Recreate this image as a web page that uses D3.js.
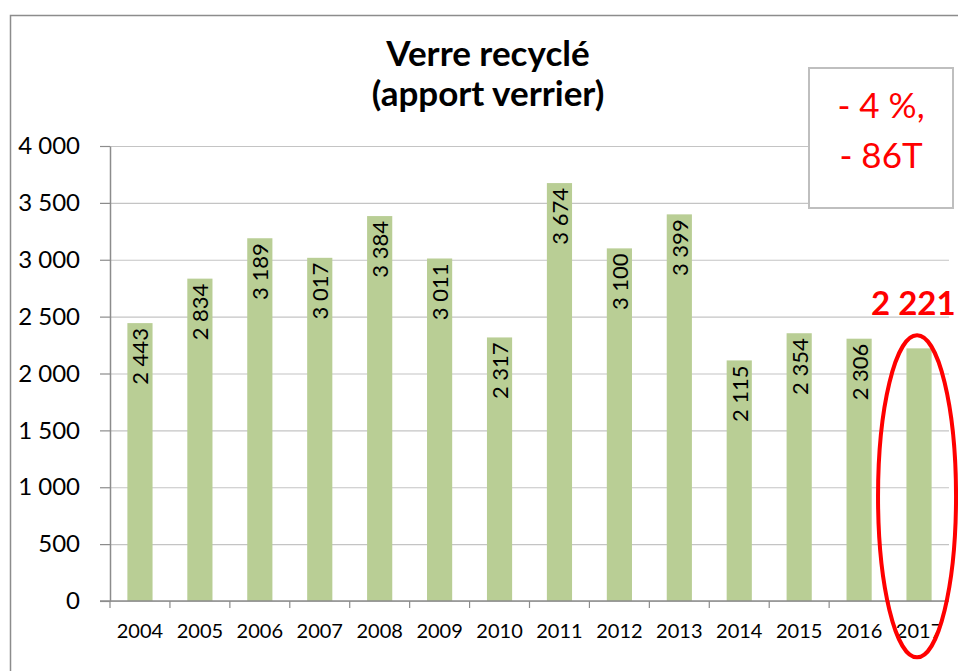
<!DOCTYPE html>
<html>
<head>
<meta charset="utf-8">
<script src="https://cdn.jsdelivr.net/npm/d3@7"></script>
<style>
  body { margin: 0; background: #fff; }
  text { font-family: Lato, "Open Sans", sans-serif; }
</style>
</head>
<body>
<div id="chart-area"></div>
<script>
// --- Data ---
var years = ["2004", "2005", "2006", "2007", "2008", "2009", "2010", "2011", "2012", "2013", "2014", "2015", "2016", "2017"];
var tonnes = [2443, 2834, 3189, 3017, 3384, 3011, 2317, 3674, 3100, 3399, 2115, 2354, 2306, 2221];
var yTicks = [0, 500, 1000, 1500, 2000, 2500, 3000, 3500, 4000];
var titleLines = ["Verre recyclé", "(apport verrier)"];
var noteLines = ["- 4 %,", "- 86T"];

var frFormat = d3.formatLocale({decimal: ",", thousands: " ", grouping: [3], currency: ["", " €"]}).format(",d");

// --- Setup the canvas ---
var canvasWidth = 958;
var canvasHeight = 671;
var canvas = d3.select("#chart-area").append("svg")
  .attr("width", canvasWidth)
  .attr("height", canvasHeight);

var margins = {top: 146, bottom: 70, left: 110, right: 9};
var graphWidth = canvasWidth - margins.left - margins.right;
var graphHeight = canvasHeight - margins.top - margins.bottom;

// outer frame
canvas.append("path")
  .attr("d", "M10.5," + canvasHeight + "V15.5H" + canvasWidth)
  .attr("fill", "none")
  .attr("stroke", "#8c8c8c")
  .attr("stroke-width", 1.5);

// title
canvas.selectAll(".title").data(titleLines).enter()
  .append("text")
  .attr("class", "title")
  .attr("x", 488)
  .attr("y", (d, i) => 66 + i * 40)
  .attr("text-anchor", "middle")
  .attr("font-size", "35px")
  .attr("font-weight", "bold")
  .attr("fill", "#000")
  .text(d => d);

var graph = canvas.append("g")
  .attr("transform", "translate(" + margins.left + "," + margins.top + ")");

// --- Scales ---
var xScale = d3.scaleBand()
  .domain(years)
  .range([0, graphWidth])
  .paddingInner(0.58)
  .paddingOuter(0.29);

var yScale = d3.scaleLinear()
  .domain([0, 4000])
  .range([graphHeight, 0]);

// gridlines
graph.append("g")
  .attr("class", "grid")
  .call(d3.axisLeft(yScale).tickValues(yTicks).tickSize(-graphWidth).tickFormat(""))
  .call(g => g.select(".domain").remove())
  .selectAll("line")
  .attr("stroke", "#c4c4c4")
  .attr("stroke-width", 1.2);

// y axis
var yAxisGroup = graph.append("g")
  .call(d3.axisLeft(yScale).tickValues(yTicks).tickSize(10).tickSizeOuter(0).tickPadding(20).tickFormat(frFormat));
yAxisGroup.select(".domain").attr("stroke", "#8c8c8c").attr("stroke-width", 1.5);
yAxisGroup.selectAll("line").attr("stroke", "#8c8c8c").attr("stroke-width", 1.2);
yAxisGroup.selectAll("text")
  .attr("font-size", "24px")
  .attr("font-family", "Lato, sans-serif")
  .attr("fill", "#000");

// bars
graph.selectAll("rect.bar").data(tonnes).enter()
  .append("rect")
  .attr("class", "bar")
  .attr("x", (d, i) => xScale(years[i]))
  .attr("y", d => yScale(d))
  .attr("width", xScale.bandwidth())
  .attr("height", d => graphHeight - yScale(d))
  .attr("fill", "#b9ce95");

// x axis (ticks between categories)
var xAxisGroup = graph.append("g")
  .attr("transform", "translate(0," + graphHeight + ")");
xAxisGroup.append("line")
  .attr("x1", -10).attr("x2", graphWidth)
  .attr("stroke", "#8c8c8c").attr("stroke-width", 1.5);
xAxisGroup.selectAll(".xtick").data(years).enter()
  .append("line")
  .attr("class", "xtick")
  .attr("x1", d => xScale(d) - xScale.step() * xScale.paddingOuter())
  .attr("x2", d => xScale(d) - xScale.step() * xScale.paddingOuter())
  .attr("y1", 0).attr("y2", 7)
  .attr("stroke", "#8c8c8c").attr("stroke-width", 1.2);
xAxisGroup.selectAll(".xlabel").data(years).enter()
  .append("text")
  .attr("class", "xlabel")
  .attr("x", d => xScale(d) + xScale.bandwidth() / 2)
  .attr("y", 37)
  .attr("text-anchor", "middle")
  .attr("font-size", "20px")
  .attr("fill", "#000")
  .text(d => d);

// value labels inside bars (all but last)
graph.selectAll(".vlabel").data(tonnes.slice(0, tonnes.length - 1)).enter()
  .append("text")
  .attr("class", "vlabel")
  .attr("transform", (d, i) => "translate(" + (xScale(years[i]) + xScale.bandwidth() / 2) + "," + (yScale(d) + 5) + ") rotate(-90)")
  .attr("text-anchor", "end")
  .attr("dominant-baseline", "central")
  .attr("font-size", "22px")
  .attr("fill", "#000")
  .text(d => frFormat(d));

// --- Highlight last year ---
var last = tonnes.length - 1;
var lastX = xScale(years[last]) + xScale.bandwidth() / 2;
graph.append("ellipse")
  .attr("cx", lastX - 2)
  .attr("cy", yScale(tonnes[last]) + 148)
  .attr("rx", 39)
  .attr("ry", 161)
  .attr("fill", "none")
  .attr("stroke", "#ff0000")
  .attr("stroke-width", 4);

graph.append("text")
  .attr("x", lastX - 48)
  .attr("y", yScale(tonnes[last]) - 33)
  .attr("font-size", "33px")
  .attr("font-weight", "bold")
  .attr("fill", "#ff0000")
  .text(frFormat(tonnes[last]));

// --- Note box ---
canvas.append("rect")
  .attr("x", 809).attr("y", 68)
  .attr("width", 144).attr("height", 140)
  .attr("fill", "#fff")
  .attr("stroke", "#bfbfbf")
  .attr("stroke-width", 2);
canvas.selectAll(".note").data(noteLines).enter()
  .append("text")
  .attr("class", "note")
  .attr("x", 881)
  .attr("y", (d, i) => 118 + i * 50)
  .attr("text-anchor", "middle")
  .attr("font-size", "35px")
  .attr("fill", "#ff0000")
  .text(d => d);
</script>
</body>
</html>
